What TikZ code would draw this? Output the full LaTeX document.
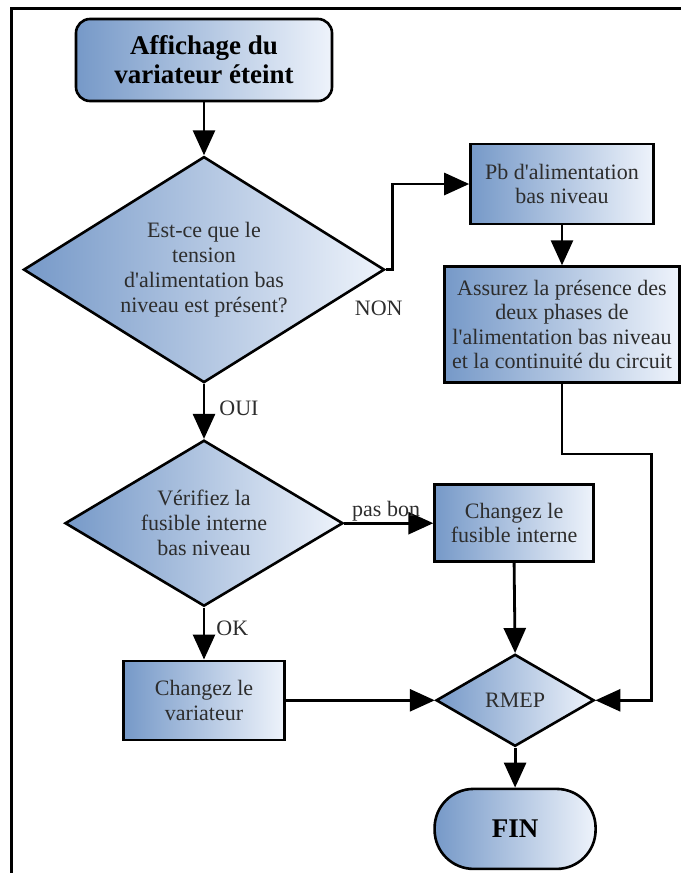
\documentclass[tikz,border=0pt]{standalone}
\usepackage{fontspec}
\setmainfont{Liberation Serif}[Ligatures=TeXOff]
\usetikzlibrary{arrows.meta,positioning,shapes.geometric}
\definecolor{shadeL}{RGB}{118,153,200}
\definecolor{shadeR}{RGB}{238,243,251}
\definecolor{txtgray}{RGB}{45,45,45}

\begin{document}
\begin{tikzpicture}[
x=1pt, y=1pt,
base/.style={draw, line width=2.6pt, left color=shadeL, right color=shadeR, align=center, text=txtgray, font=\fontsize{22}{24.5}\selectfont, inner sep=0pt},
box/.style={base, rectangle},
decision/.style={base, diamond, font=\fontsize{22}{25}\selectfont},
terminal/.style={base, rectangle, text=black, font=\bfseries\fontsize{27}{29}\selectfont},
arrow/.style={-{Triangle[length=25pt,width=22pt]}, line width=2.8pt},
lbl/.style={font=\fontsize{22}{24}\selectfont, text=txtgray, inner sep=1pt}
]
\useasboundingbox (0,0) rectangle (681,-873);
\draw[line width=3pt] (11,-873) -- (11,-8) -- (681,-8);

\node[terminal, rounded corners=14pt, minimum width=256pt, minimum height=82pt] (start) at (204,-60) {Affichage du\\variateur éteint};
\node[decision, aspect=1.6, minimum width=361pt, minimum height=226pt, below=53pt of start] (tension) {Est-ce que le\\tension\\d'alimentation bas\\niveau est présent?};
\node[decision, aspect=1.67, minimum width=278pt, minimum height=166pt, below=55pt of tension] (fusible) {Vérifiez la\\fusible interne\\bas niveau};
\node[box, minimum width=161pt, minimum height=79pt, below=52pt of fusible] (variateur) {Changez le\\variateur};
\node[box, minimum width=159pt, minimum height=77pt, right=89pt of fusible] (chfusible) {Changez le\\fusible interne};
\node[decision, aspect=1.7, minimum width=158pt, minimum height=92pt, right=149pt of variateur] (rmep) {RMEP};
\node[terminal, rounded corners=39pt, minimum width=161pt, minimum height=80pt, below=40pt of rmep] (fin) {FIN};
\node[box, minimum width=183pt, minimum height=80pt] (pb) at (562,-184) {Pb d'alimentation\\bas niveau};
\node[box, minimum width=235pt, minimum height=116pt, below=40pt of pb] (assurez) {Assurez la présence des\\deux phases de\\l'alimentation bas niveau\\et la continuité du circuit};

\node[lbl] (non) at ([xshift=-7pt,yshift=-39pt]tension.east) {NON};

\draw[arrow] (start) -- (tension);
\draw[arrow] (tension.east) -- ++(7,0) |- (pb.west);
\draw[arrow] (tension) -- node[lbl, anchor=west, pos=.45, xshift=13pt] (oui) {OUI} (fusible);
\draw[arrow] (fusible) -- node[lbl, above, pos=.47] (pasbon) {pas bon} (chfusible);
\draw[arrow] (fusible) -- node[lbl, anchor=west, pos=.4, xshift=10pt] (ok) {OK} (variateur);
\draw[arrow] (pb) -- (assurez);
\draw[arrow] (chfusible.south) -- (rmep.north);
\draw[arrow] (variateur) -- (rmep);
\draw[arrow] (assurez.south) -- ++(0,-70) -| ([xshift=56pt]rmep.east) -- (rmep.east);
\draw[arrow] (rmep) -- (fin);
\end{tikzpicture}
\end{document}
